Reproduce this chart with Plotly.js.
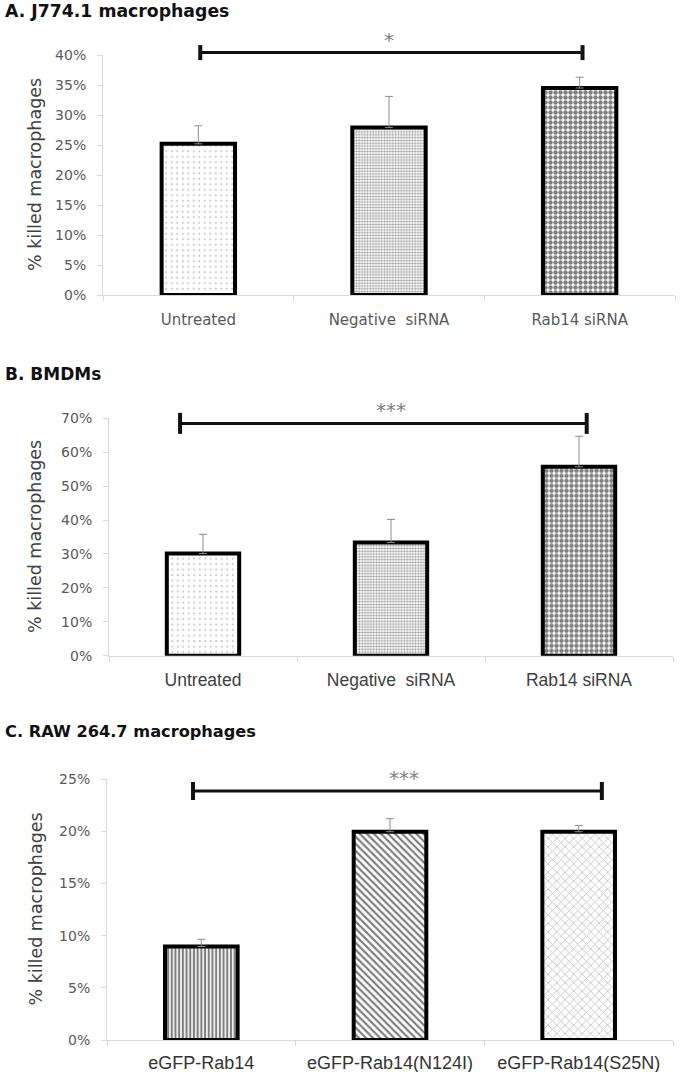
<!DOCTYPE html>
<html><head><meta charset="utf-8">
<script src="https://cdn.plot.ly/plotly-3.0.1.min.js"></script>
<style>html,body{margin:0;padding:0;background:#fff}#chart{width:680px;height:1072px}</style>
</head><body><div id="chart"></div>
<script>
// ---- data ----
const catsA = ['Untreated', 'Negative\u00a0 siRNA', 'Rab14 siRNA'];
const valuesA = [25.2, 27.9, 34.5];
const errA = [3.0, 5.2, 1.8];
const sigA = '*';

const catsB = ['Untreated', 'Negative\u00a0 siRNA', 'Rab14 siRNA'];
const valuesB = [30.1, 33.4, 55.7];
const errB = [5.7, 6.8, 9.0];
const sigB = '***';

const catsC = ['eGFP-Rab14', 'eGFP-Rab14(N124I)', 'eGFP-Rab14(S25N)'];
const valuesC = [8.95, 19.95, 19.95];
const errC = [0.7, 1.25, 0.6];
const sigC = '***';

const titleA = 'A. J774.1 macrophages';
const titleB = 'B. BMDMs';
const titleC = 'C. RAW 264.7 macrophages';
const yTitle = '% killed macrophages';

// ---- styles / layout ----
const W = 680, H = 1072;
const px = v => v / W;
const py = v => 1 - v / H;

const patAB = {shape: ['.', '.', '.'], size: [5.5, 2.8, 5], solidity: [0.12, 0.42, 0.62],
  fgcolor: ['#999999', '#222222', '#000000'], fillmode: 'overlay'};
const patC = {shape: ['|', '\\', 'x'], size: [3.7, 5, 6], solidity: [0.58, 0.45, 0.28],
  fgcolor: ['#000000', '#000000', '#8c8c8c'], fillmode: 'overlay'};

const panels = [
  {cats: catsA, vals: valuesA, err: errA, sig: sigA, title: titleA, xa: 'x', ya: 'y',
   xdom: [103, 675], ydom: [55, 295], range: [0, 40], dtick: 5, pat: patAB, xstand: 11,
   tfont: 17.3, tY: 10.8, xfont: {family: 'DejaVu Sans', size: 15, color: '#595959'},
   br: {x0: 0.01, x1: 2.015, lvl: 40.4, cap: 15}, starShift: 0},
  {cats: catsB, vals: valuesB, err: errB, sig: sigB, title: titleB, xa: 'x2', ya: 'y2',
   xdom: [109, 673], ydom: [418.3, 655.7], range: [0, 70], dtick: 10, pat: patAB, xstand: 8,
   tfont: 17, tY: 373.7, xfont: {family: 'Liberation Sans', size: 17.5, color: '#404040'},
   br: {x0: -0.122, x1: 2.041, lvl: 68.5, cap: 21}, starShift: 0},
  {cats: catsC, vals: valuesC, err: errC, sig: sigC, title: titleC, xa: 'x3', ya: 'y3',
   xdom: [107, 673], ydom: [779, 1040], range: [0, 25], dtick: 5, pat: patC, xstand: 6,
   tfont: 16.2, tY: 731, xfont: {family: 'Liberation Sans', size: 18, color: '#333333'},
   br: {x0: -0.044, x1: 2.123, lvl: 23.85, cap: 18}, starShift: 14}
];

const traces = [];
const layout = {
  width: W, height: H, margin: {l: 0, r: 0, t: 0, b: 0},
  paper_bgcolor: '#ffffff', plot_bgcolor: '#ffffff', showlegend: false,
  font: {family: 'DejaVu Sans', color: '#404040'},
  bargap: 0, shapes: [], annotations: []
};

panels.forEach((p, i) => {
  traces.push({
    type: 'bar', x: p.cats, y: p.vals, xaxis: p.xa, yaxis: p.ya, width: 0.385,
    marker: {color: '#ffffff', line: {color: '#000000', width: 4}, pattern: p.pat},
    error_y: {type: 'data', symmetric: false, array: p.err, arrayminus: p.err.map(() => 0),
      color: '#8c8c8c', thickness: 1, width: 4},
    hoverinfo: 'skip'
  });
  const xk = 'xaxis' + (i ? i + 1 : ''), yk = 'yaxis' + (i ? i + 1 : '');
  layout[xk] = {
    domain: [px(p.xdom[0]), px(p.xdom[1])], anchor: p.ya, type: 'category',
    showline: true, linecolor: '#d9d9d9', linewidth: 1, ticks: 'outside', tickson: 'boundaries',
    ticklen: 5, tickcolor: '#d9d9d9', showgrid: false, zeroline: false,
    tickfont: p.xfont, ticklabelstandoff: p.xstand, fixedrange: true
  };
  layout[yk] = {
    domain: [py(p.ydom[1]), py(p.ydom[0])], anchor: p.xa, range: p.range,
    dtick: p.dtick, tick0: 0, ticksuffix: '%', showline: true, linecolor: '#d9d9d9', linewidth: 1,
    ticks: 'outside', ticklen: 5, tickcolor: '#d9d9d9', showgrid: false, zeroline: false,
    tickfont: {family: 'DejaVu Sans', size: 14, color: '#595959'}, ticklabelstandoff: 8,
    fixedrange: true
  };
  const yd = p.ya + ' domain';
  const lv = p.br.lvl / p.range[1];
  layout.shapes.push({type: 'line', xref: p.xa, yref: yd, x0: p.br.x0, x1: p.br.x1, y0: lv, y1: lv,
    line: {color: '#111111', width: 3}});
  [p.br.x0, p.br.x1].forEach(xx => layout.shapes.push({type: 'line', xref: p.xa, yref: yd,
    ysizemode: 'pixel', yanchor: lv, x0: xx, x1: xx, y0: -p.br.cap / 2, y1: p.br.cap / 2,
    line: {color: '#111111', width: 4}}));
  layout.annotations.push({xref: p.xa, yref: yd, x: p.cats[1], y: lv, yanchor: 'middle',
    yshift: 13, xshift: p.starShift, text: p.sig, showarrow: false,
    font: {family: 'DejaVu Sans', size: 20, color: '#7f7f7f'}});
  layout.annotations.push({xref: 'paper', yref: 'paper', x: px(3), y: py(p.tY),
    xanchor: 'left', yanchor: 'middle', text: '<b>' + p.title + '</b>', showarrow: false,
    font: {family: 'DejaVu Sans', size: p.tfont, color: '#111111'}});
  layout.annotations.push({xref: 'paper', yref: 'paper', x: px(35),
    y: py((p.ydom[0] + p.ydom[1]) / 2), xanchor: 'center', yanchor: 'middle', textangle: -90,
    text: yTitle, showarrow: false, font: {family: 'DejaVu Sans', size: 17.5, color: '#404040'}});
});

Plotly.newPlot('chart', traces, layout, {displayModeBar: false, staticPlot: true});
</script></body></html>
